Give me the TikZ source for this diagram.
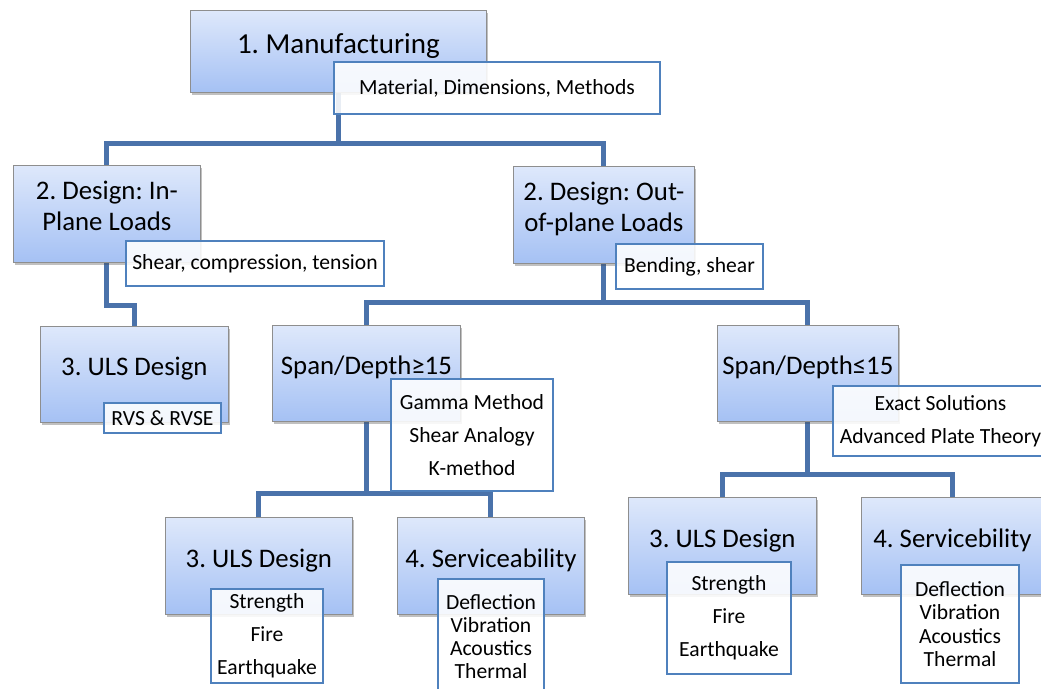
\documentclass[tikz,border=0pt]{standalone}
\usepackage{fontspec}
\setmainfont{Carlito}
\usetikzlibrary{shadows}
\frenchspacing

\definecolor{boxtop}{HTML}{DEE8FB}
\definecolor{boxbot}{HTML}{A5C1F4}
\definecolor{boxgray}{HTML}{8E8E8E}
\definecolor{tagblue}{HTML}{4F81BD}
\definecolor{linkblue}{HTML}{4A72AA}

\pgfdeclarelayer{back}
\pgfsetlayers{back,main}

\tikzset{
  box/.style={draw=boxgray, line width=0.8pt, top color=boxtop, bottom color=boxbot,
    drop shadow={shadow xshift=2pt, shadow yshift=-3pt, opacity=.35, fill=black!70},
    anchor=north west, align=center, inner sep=0pt, text depth=16pt,
    font=\fontsize{26.8}{31}\selectfont},
  tag/.style={draw=tagblue, line width=2pt, fill=white, fill opacity=.88, text opacity=1,
    anchor=north west, align=center, inner sep=0pt,
    font=\fontsize{21.6}{33}\selectfont},
  conn/.style={draw=linkblue, line width=5pt}
}

\begin{document}
\begin{tikzpicture}[x=1pt,y=-1pt]
  \useasboundingbox (0,0) rectangle (1041,688);

  % main boxes
  \node[box, minimum width=296, minimum height=82, font=\fontsize{29}{33}\selectfont] (mfg) at (190,10) {1. Manufacturing};
  \node[box, minimum width=187, minimum height=97] (inpl) at (13,165) {2. Design: In-\\Plane Loads};
  \node[box, minimum width=181, minimum height=97] (outpl) at (513,166) {2. Design: Out-\\of-plane Loads};
  \node[box, minimum width=188, minimum height=96] (uls1) at (40,326) {3. ULS Design};
  \node[box, minimum width=188, minimum height=96] (spange) at (272,325) {Span/Depth≥15};
  \node[box, minimum width=181, minimum height=96] (sple) at (717,325) {Span/Depth≤15};
  \node[box, minimum width=187, minimum height=97] (uls2) at (165,517) {3. ULS Design};
  \node[box, minimum width=187, minimum height=97] (serv2) at (397,517) {4. Serviceability};
  \node[box, minimum width=188, minimum height=97] (uls3) at (628,497) {3. ULS Design};
  \node[box, minimum width=182, minimum height=97] (serv3) at (861,497) {4. Servicebility};

  % tags
  \node[tag, minimum width=326, minimum height=52] (mat) at (333,61) {Material, Dimensions, Methods};
  \node[tag, minimum width=258, minimum height=45] (shr) at (125,240) {Shear, compression, tension};
  \node[tag, minimum width=147, minimum height=45] (bnd) at (615,243) {Bending, shear};
  \node[tag, minimum width=117, minimum height=30] (rvs) at (103,402) {RVS \& RVSE};
  \node[tag, minimum width=162, minimum height=112] (gam) at (390,378) {Gamma Method\\Shear Analogy\\K-method};
  \node[tag, minimum width=215, minimum height=70] (exa) at (832,385) {Exact Solutions\\Advanced Plate Theory};
  \node[tag, minimum width=112, minimum height=94] (str2) at (210,588) {Strength\\Fire\\Earthquake};
  \node[tag, minimum width=106, minimum height=115, font=\fontsize{21.6}{23}\selectfont] (dfl2) at (437,578) {Deflection\\Vibration\\Acoustics\\Thermal};
  \node[tag, minimum width=124, minimum height=112] (str3) at (666,561) {Strength\\Fire\\Earthquake};
  \node[tag, minimum width=118, minimum height=118, font=\fontsize{21.6}{23.5}\selectfont] (dfl3) at (900,564) {Deflection\\Vibration\\Acoustics\\Thermal};

  \begin{pgfonlayer}{back}
    \fill[white] (0,0) rectangle (1041,688);
    \foreach \p/\c/\d in {mfg/inpl/51, mfg/outpl/51, inpl/uls1/43, outpl/spange/39, outpl/sple/39,
                          spange/uls2/72, spange/serv2/72, sple/uls3/53, sple/serv3/53}
      \draw[conn] (\p.south) -- ++(0,\d) -| (\c.north);
  \end{pgfonlayer}
\end{tikzpicture}
\end{document}
